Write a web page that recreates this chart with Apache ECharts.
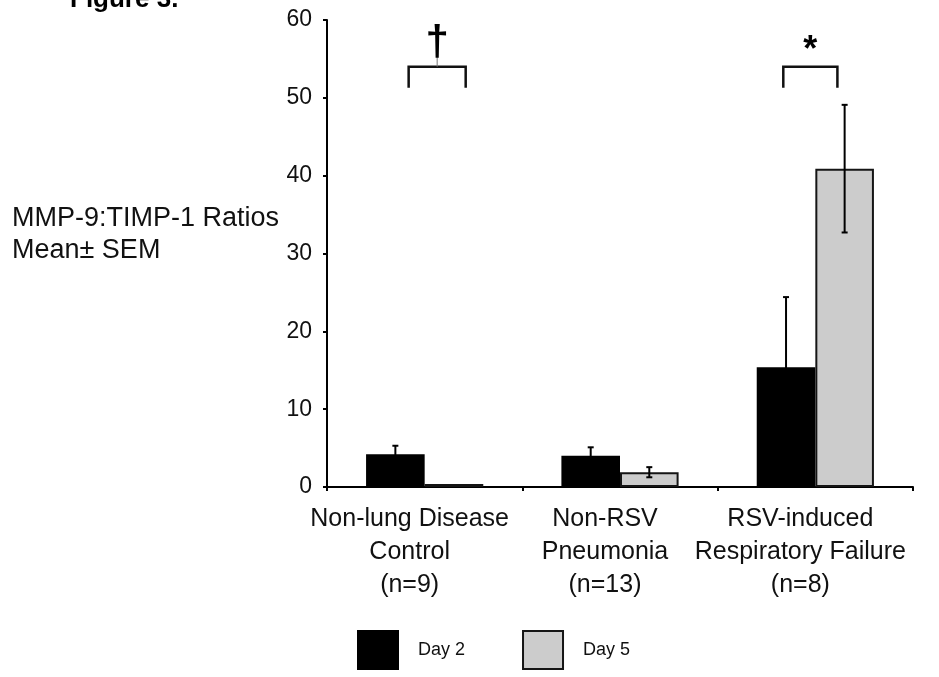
<!DOCTYPE html>
<html>
<head>
<meta charset="utf-8">
<script src="https://cdn.jsdelivr.net/npm/echarts@6/dist/echarts.min.js"></script>
<style>
html,body{margin:0;padding:0;background:#fff;}
#chart{width:939px;height:677px;}
</style>
</head>
<body>
<div id="chart"></div>
<script>
// ---- data ----
var categories = ['Non-lung Disease\nControl\n(n=9)', 'Non-RSV\nPneumonia\n(n=13)', 'RSV-induced\nRespiratory Failure\n(n=8)'];
var seriesNames = ['Day 2', 'Day 5'];
var day2 = [4.2, 4.0, 15.4];
var day2Sem = [1.1, 1.1, 9.0];
var day5 = [0.4, 1.9, 40.9];
var day5Sem = [0, 0.65, 8.2];
var yTicks = [0, 10, 20, 30, 40, 50, 60];
var sigMarks = ['\u2020', '*'];
var sigCategories = [0, 2];
var sigTop = [54.0, 54.0];
var sigLeg = [51.3, 51.3];

// ---- build ----
var FONT = '"Liberation Sans", Arial, sans-serif';
var errData = [];
for (var i = 0; i < categories.length; i++) {
  if (day2Sem[i] > 0) errData.push([i, day2[i] - day2Sem[i], day2[i] + day2Sem[i], 0]);
  if (day5Sem[i] > 0) errData.push([i, day5[i] - day5Sem[i], day5[i] + day5Sem[i], 1]);
}
var sigData = sigCategories.map(function (c, k) { return [c, sigTop[k], sigLeg[k], k]; });
// bracket horizontal extents relative to category center (fraction of band)
var bracketSpan = [[-0.082, 0.21], [-0.164, 0.113]];

var chart = echarts.init(document.getElementById('chart'), null, {renderer: 'canvas'});
chart.setOption({
  animation: false,
  backgroundColor: '#ffffff',
  textStyle: {fontFamily: FONT},
  grid: {left: 327, right: 26, top: 20, bottom: 190, containLabel: false},
  xAxis: {
    type: 'category',
    data: categories,
    axisLine: {lineStyle: {color: '#000', width: 2}},
    axisTick: {show: true, length: 4, lineStyle: {color: '#000', width: 2}},
    axisLabel: {color: '#111', fontSize: 25, fontFamily: FONT, lineHeight: 33, margin: 16, padding: [0, 30, 0, 0], interval: 0}
  },
  yAxis: {
    type: 'value',
    min: yTicks[0],
    max: yTicks[yTicks.length - 1],
    interval: yTicks[1] - yTicks[0],
    axisLine: {show: true, lineStyle: {color: '#000', width: 2}},
    axisTick: {show: true, length: 4, lineStyle: {color: '#000', width: 2}},
    splitLine: {show: false},
    axisLabel: {color: '#111', fontSize: 23, fontFamily: FONT, margin: 15}
  },
  legend: {
    left: 357, top: 630, padding: 0,
    itemWidth: 40, itemHeight: 38, itemGap: 57,
    icon: 'rect',
    textStyle: {fontSize: 18, color: '#111', fontFamily: FONT, padding: [0, 0, 0, 15]},
    data: seriesNames
  },
  series: [
    {
      name: seriesNames[0], type: 'bar', data: day2,
      barGap: '0%', barCategoryGap: '40%',
      itemStyle: {color: '#000000', borderColor: '#000', borderWidth: 2}
    },
    {
      name: seriesNames[1], type: 'bar', data: day5,
      barGap: '0%', barCategoryGap: '40%',
      itemStyle: {color: '#cccccc', borderColor: '#151515', borderWidth: 2}
    },
    {
      type: 'custom', data: errData, z: 10, silent: true,
      renderItem: function (params, api) {
        var band = api.size([1, 0])[0];
        var off = (api.value(3) === 0 ? -0.15 : 0.15) * band;
        var lo = api.coord([api.value(0), api.value(1)]);
        var hi = api.coord([api.value(0), api.value(2)]);
        var x = hi[0] + off, cap = 3;
        var st = {stroke: '#000', lineWidth: 2};
        return {type: 'group', children: [
          {type: 'line', shape: {x1: x, y1: hi[1], x2: x, y2: lo[1]}, style: st},
          {type: 'line', shape: {x1: x - cap, y1: hi[1], x2: x + cap, y2: hi[1]}, style: st},
          {type: 'line', shape: {x1: x - cap, y1: lo[1], x2: x + cap, y2: lo[1]}, style: st}
        ]};
      }
    },
    {
      type: 'custom', data: sigData, z: 10, silent: true,
      renderItem: function (params, api) {
        var band = api.size([1, 0])[0];
        var k = api.value(3);
        var top = api.coord([api.value(0), api.value(1)]);
        var leg = api.coord([api.value(0), api.value(2)]);
        var x1 = top[0] + bracketSpan[k][0] * band;
        var x2 = top[0] + bracketSpan[k][1] * band;
        var xm = (x1 + x2) / 2;
        var st = {stroke: '#111', lineWidth: 2.5, fill: null};
        var children = [
          {type: 'polyline', shape: {points: [[x1, leg[1]], [x1, top[1]], [x2, top[1]], [x2, leg[1]]]}, style: st}
        ];
        if (k === 0) {
          children.push({type: 'line', shape: {x1: xm, y1: top[1] - 16, x2: xm, y2: top[1]}, style: {stroke: '#777', lineWidth: 1}});
          children.push({type: 'text', x: xm, y: top[1] - 23, style: {text: sigMarks[k], fontSize: 42, fontWeight: 'bold', fontFamily: FONT, fill: '#000', align: 'center', verticalAlign: 'middle'}});
        } else {
          children.push({type: 'text', x: xm, y: top[1] - 16, style: {text: sigMarks[k], fontSize: 36, fontWeight: 'bold', fontFamily: FONT, fill: '#000', align: 'center', verticalAlign: 'middle'}});
        }
        return {type: 'group', children: children};
      }
    }
  ],
  graphic: [
    {type: 'text', left: 70, top: -13, style: {text: 'Figure 3.', fontSize: 26, fontWeight: 'bold', fontFamily: FONT, fill: '#000'}},
    {type: 'text', left: 12, top: 203, style: {text: 'MMP-9:TIMP-1 Ratios\nMean\u00b1 SEM', fontSize: 27, lineHeight: 32, fontFamily: FONT, fill: '#111'}}
  ]
});
</script>
</body>
</html>
